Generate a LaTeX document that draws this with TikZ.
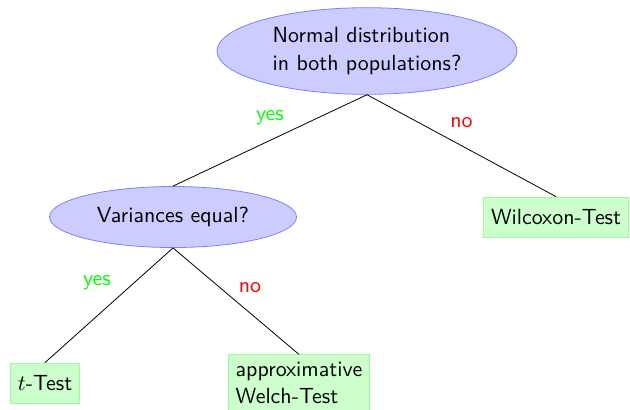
\documentclass[tikz,border=0pt,11pt]{standalone}
\usepackage{tikz}
\usetikzlibrary{shapes.geometric, positioning}
\renewcommand{\familydefault}{\sfdefault}

\begin{document}
\begin{tikzpicture}[x=0.5pt, y=-0.5pt,
                question/.style={ellipse, draw=blue!50, fill=blue!20, align=left},
                answer/.style={rectangle, draw=green!40, fill=green!20, align=left, minimum height=20pt},
                yes/.style={text=green, midway},
                no/.style={text=red, midway}]

    \useasboundingbox (0,0) rectangle (630,409); % crop as in the original

    \node [question, minimum width=150pt, minimum height=41.5pt] (normal) at (367,51) {Normal distribution\\in both populations?};
    \node [question, minimum width=123.5pt, minimum height=30.5pt] (var) at (173,217) {Variances equal?};
    \node [answer] (wilcoxon) at (556,217) {Wilcoxon-Test};
    \node [answer] (ttest)    at (45,383)  {$t$-Test};
    \node [answer] (welch)    at (299,383) {approximative\\Welch-Test};

    \draw (normal.south) -- (var.north)      node [yes, yshift=11.5pt] {yes};
    \draw (normal.south) -- (wilcoxon.north) node [no, yshift=11.5pt] {no};
    \draw (var.south)    -- (ttest.north)    node [yes, xshift=-6pt, yshift=11.5pt] {yes};
    \draw (var.south)    -- (welch.north)    node [no, xshift=7pt, yshift=7pt] {no};

\end{tikzpicture}
\end{document}
